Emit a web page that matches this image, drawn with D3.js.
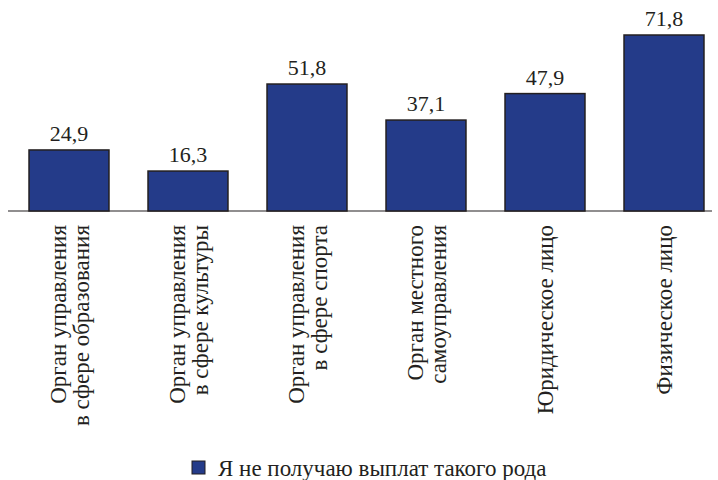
<!DOCTYPE html>
<html><head><meta charset="utf-8">
<script src="https://cdn.jsdelivr.net/npm/d3@7"></script>
</head><body><svg id="c" width="718" height="480"></svg>
<script>
const categories = [
  ["Орган управления", "в сфере образования"],
  ["Орган управления", "в сфере культуры"],
  ["Орган управления", "в сфере спорта"],
  ["Орган местного", "самоуправления"],
  ["Юридическое лицо"],
  ["Физическое лицо"]
];
const values = [24.9, 16.3, 51.8, 37.1, 47.9, 71.8];
const seriesName = "Я не получаю выплат такого рода";

d3.select("body").style("margin", "0px");
const svg = d3.select("#c").style("display", "block");
const ink = "#231f20";
const FF = '"Liberation Serif"';
const base = 211;
const x = d3.scaleBand().domain(d3.range(categories.length)).range([9.5, 723.5]).paddingInner(0.328).paddingOuter(0.164);
const y = d3.scaleLinear().domain([0, 71.8]).range([base, 35]);
const fill = "#243b89";

svg.append("line").attr("x1", 8).attr("x2", 712).attr("y1", base).attr("y2", base)
  .attr("stroke", ink).attr("stroke-width", 1.2);

svg.selectAll("rect.bar").data(values).join("rect").attr("class","bar")
  .attr("x", (d,i)=>x(i)).attr("width", x.bandwidth())
  .attr("y", d=>y(d)).attr("height", d=>base - y(d))
  .attr("fill", fill).attr("stroke", ink).attr("stroke-width", 1.5);

svg.selectAll("text.val").data(values).join("text").attr("class","val")
  .attr("x", (d,i)=>x(i)+x.bandwidth()/2).attr("y", d=>y(d)-9)
  .attr("text-anchor","middle").style("font-family", FF).attr("font-size", 22).attr("fill", ink)
  .text(d=>d.toFixed(1).replace(".", ","));

const lh = 23;
categories.forEach((lines, i) => {
  const cx = x(i) + x.bandwidth()/2;
  const n = lines.length;
  const g = svg.append("g").attr("transform", `translate(${cx},225) rotate(-90)`);
  lines.forEach((t, j) => {
    const off = (j - (n-1)/2) * lh;
    g.append("text").attr("x", 0).attr("y", off).attr("dy", "0.35em")
      .attr("text-anchor","end").style("font-family", FF).attr("font-size", 23).attr("fill", ink).text(t);
  });
});

const lg = svg.append("g").attr("transform","translate(192,461)");
lg.append("rect").attr("width",13).attr("height",13).attr("fill",fill).attr("stroke",ink).attr("stroke-width",1);
lg.append("text").attr("x",26).attr("y",7).attr("dy","0.35em").style("font-family", FF).attr("font-size", 23).attr("fill", ink).text(seriesName);
</script></body></html>
